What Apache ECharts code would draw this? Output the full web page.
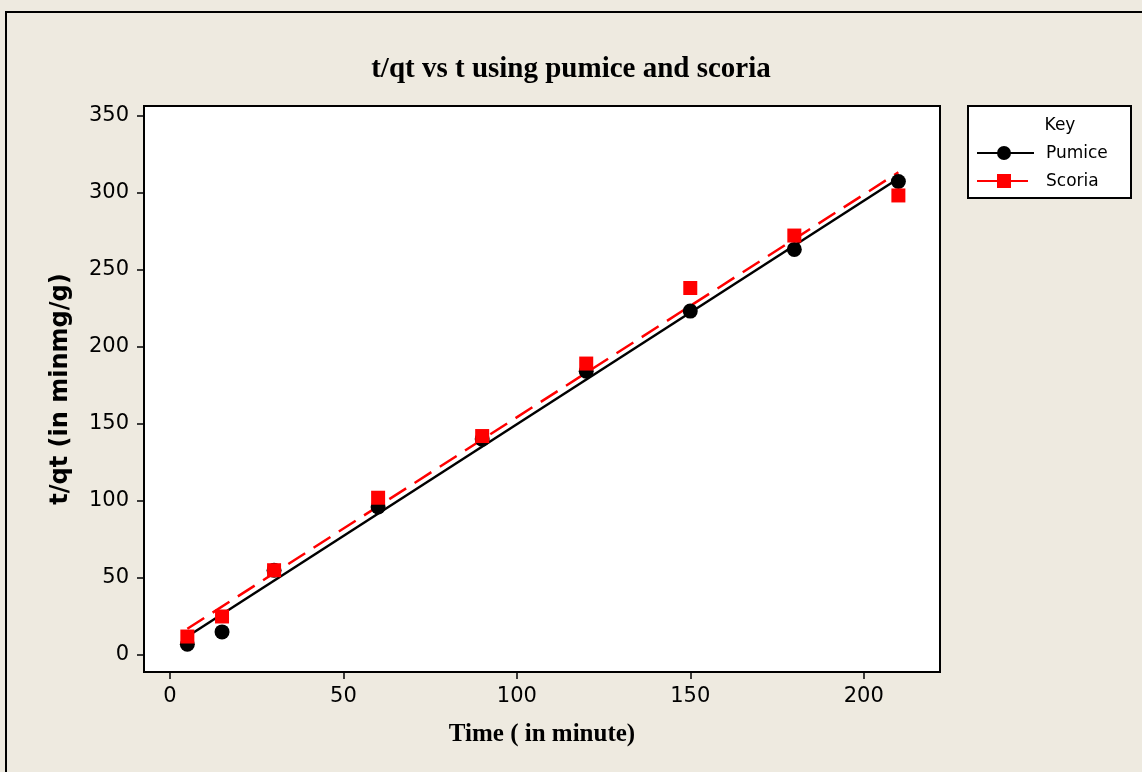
<!DOCTYPE html>
<html>
<head>
<meta charset="utf-8">
<script src="https://cdn.jsdelivr.net/npm/echarts@6/dist/echarts.min.js"></script>
<style>
html,body{margin:0;padding:0;background:#EEEAE0;}
#chart{width:1142px;height:772px;}
</style>
</head>
<body>
<div id="chart"></div>
<script>
// ---- data ----
const times = [5, 15, 30, 60, 90, 120, 150, 180, 210];
const pumice = [7, 15, 55, 96, 140, 184, 223, 263, 307];
const scoria = [12, 25, 55, 102, 142, 189, 238, 272, 298];
// fitted line end points
const fitX = [5, 210];
const pumiceFit = [12, 309];
const scoriaFit = [17, 313];
const xTicks = [0, 50, 100, 150, 200];
const yTicks = [0, 50, 100, 150, 200, 250, 300, 350];
const seriesNames = ['Pumice', 'Scoria'];

const zip = (xs, ys) => xs.map((x, i) => [x, ys[i]]);

const chart = echarts.init(document.getElementById('chart'));
const sansFont = '"DejaVu Sans", sans-serif';
const serifFont = '"Liberation Serif", "Times New Roman", serif';

const lx = 968, ly = 106, lw = 163, lh = 92;

chart.setOption({
  backgroundColor: '#EEEAE0',
  animation: false,
  title: {
    text: 't/qt vs t using pumice and scoria',
    left: 'center',
    top: 50,
    textStyle: {fontFamily: serifFont, fontWeight: 'bold', fontSize: 29, color: '#000'}
  },
  grid: {
    left: 144, right: 202, top: 106, bottom: 100,
    show: true, backgroundColor: '#fff', borderColor: '#000', borderWidth: 2
  },
  xAxis: {
    type: 'value', min: -7.5, max: 222,
    name: 'Time ( in minute)', nameLocation: 'middle', nameGap: 50,
    nameTextStyle: {fontFamily: serifFont, fontWeight: 'bold', fontSize: 25, color: '#000'},
    axisLine: {show: true, onZero: false, lineStyle: {color: '#000', width: 2}},
    axisTick: {show: true, length: 7, lineStyle: {color: '#000', width: 1.5}, customValues: xTicks},
    axisLabel: {color: '#000', fontFamily: sansFont, fontSize: 21, margin: 14, customValues: xTicks},
    splitLine: {show: false}
  },
  yAxis: {
    type: 'value', min: -11, max: 356,
    name: 't/qt (in minmg/g)', nameLocation: 'middle', nameGap: 71, nameRotate: 90,
    nameTextStyle: {fontFamily: sansFont, fontWeight: 'bold', fontSize: 24, color: '#000'},
    axisLine: {show: true, onZero: false, lineStyle: {color: '#000', width: 2}},
    axisTick: {show: true, length: 7, lineStyle: {color: '#000', width: 1.5}, customValues: yTicks},
    axisLabel: {color: '#000', fontFamily: sansFont, fontSize: 21, margin: 15, customValues: yTicks},
    splitLine: {show: false}
  },
  series: [
    {
      name: seriesNames[0] + ' fit', type: 'line', data: zip(fitX, pumiceFit),
      showSymbol: false, lineStyle: {color: '#000', width: 2.5}, z: 2, silent: true
    },
    {
      name: seriesNames[1] + ' fit', type: 'line', data: zip(fitX, scoriaFit),
      showSymbol: false, lineStyle: {color: '#FF0000', width: 2.5, type: [20, 10]}, z: 2, silent: true
    },
    {
      name: seriesNames[0], type: 'scatter', data: zip(times, pumice),
      symbol: 'circle', symbolSize: 15, itemStyle: {color: '#000', opacity: 1}, z: 3
    },
    {
      name: seriesNames[1], type: 'scatter', data: zip(times, scoria),
      symbol: 'rect', symbolSize: 14, itemStyle: {color: '#FF0000', opacity: 1}, z: 4
    }
  ],
  graphic: [
    {type: 'rect', shape: {x: 6, y: 12, width: 1160, height: 800},
     style: {fill: 'none', stroke: '#000', lineWidth: 2}, silent: true},
    {type: 'rect', shape: {x: lx, y: ly, width: lw, height: lh},
     style: {fill: '#fff', stroke: '#000', lineWidth: 2}},
    {type: 'text', x: 1060, y: 126, style: {text: 'Key', font: '17px ' + sansFont, fill: '#000', align: 'center', verticalAlign: 'middle'}},
    {type: 'line', shape: {x1: 977, y1: 153, x2: 1034, y2: 153}, style: {stroke: '#000', lineWidth: 2}},
    {type: 'circle', shape: {cx: 1004, cy: 153, r: 7}, style: {fill: '#000'}},
    {type: 'text', x: 1046, y: 154, style: {text: seriesNames[0], font: '17px ' + sansFont, fill: '#000', align: 'left', verticalAlign: 'middle'}},
    {type: 'line', shape: {x1: 977, y1: 181, x2: 1028, y2: 181}, style: {stroke: '#FF0000', lineWidth: 2}},
    {type: 'rect', shape: {x: 997, y: 174, width: 14, height: 14}, style: {fill: '#FF0000'}},
    {type: 'text', x: 1046, y: 182, style: {text: seriesNames[1], font: '17px ' + sansFont, fill: '#000', align: 'left', verticalAlign: 'middle'}}
  ]
});
</script>
</body>
</html>
